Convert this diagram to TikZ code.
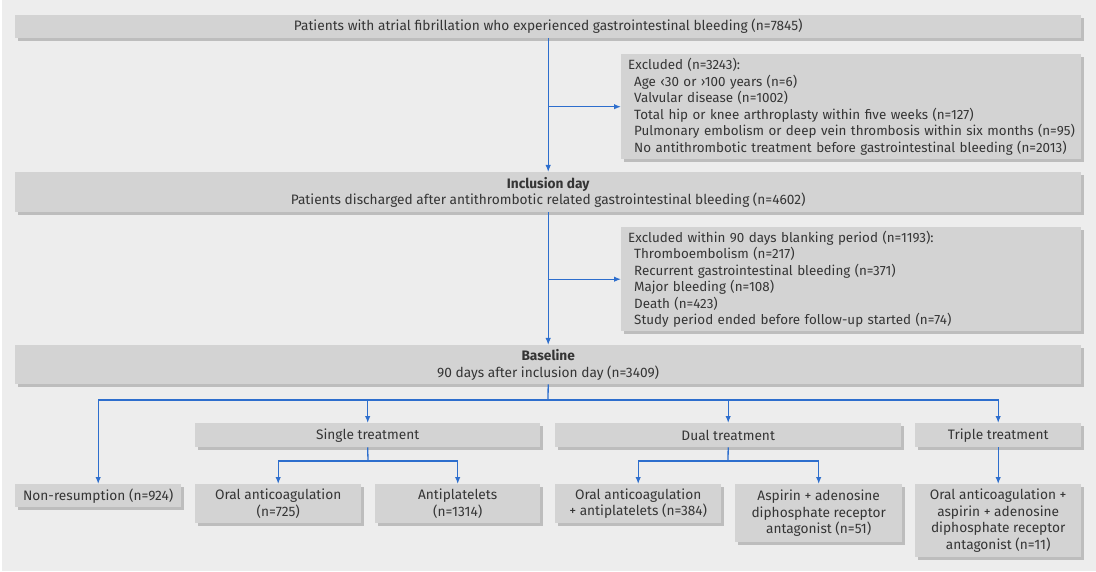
\documentclass[tikz,border=0pt]{standalone}
\usepackage{fontspec}
\setmainfont{Fira Sans}
\usetikzlibrary{arrows.meta,shadows}
\definecolor{bggrey}{HTML}{EDEDED}
\definecolor{boxgrey}{HTML}{D3D3D3}
\definecolor{shadowgrey}{HTML}{BDBDBD}
\definecolor{textgrey}{HTML}{353535}
\definecolor{linkblue}{RGB}{45,110,205}
\newcommand{\exclhead}[1]{\hspace*{7pt}\mbox{#1}}
\newcommand{\exclitem}[1]{\hspace*{13pt}\mbox{#1}}
\begin{document}
\begin{tikzpicture}[x=1pt,y=-1pt,
  box/.style={fill=boxgrey, anchor=north west, inner xsep=7pt, inner ysep=0pt,
    text=textgrey, align=center, font=\fontsize{13.7}{16.5}\selectfont,
    drop shadow={shadow xshift=3pt, shadow yshift=-3pt, fill=shadowgrey, opacity=1}},
  exclbox/.style={box, align=left, inner xsep=0pt, text width=460pt,
    font=\fontsize{13.4}{16.5}\selectfont},
  link/.style={draw=linkblue, line width=1.3pt},
  >={Latex[length=7pt,width=5.5pt]}]
\useasboundingbox (0,0) rectangle (1096,572);
\fill[white] (0,0) rectangle (1096,572);
\fill[bggrey] (1.5,0) rectangle (1096,570.5);
% main column
\node[box, minimum width=1066pt, minimum height=22.5pt] (start) at (15,15) {Patients with atrial fibrillation who experienced gastrointestinal bleeding (n=7845)};
\node[exclbox, minimum height=105pt] (excl1) at (621,54) {\exclhead{Excluded (n=3243):}\\
  \exclitem{Age ‹30 or ›100 years (n=6)}\\
  \exclitem{Valvular disease (n=1002)}\\
  \exclitem{Total hip or knee arthroplasty within five weeks (n=127)}\\
  \exclitem{Pulmonary embolism or deep vein thrombosis within six months (n=95)}\\
  \exclitem{No antithrombotic treatment before gastrointestinal bleeding (n=2013)}};
\node[box, minimum width=1066pt, minimum height=40pt] (incl) at (15,172) {\textbf{Inclusion day}\\Patients discharged after antithrombotic related gastrointestinal bleeding (n=4602)};
\node[exclbox, minimum height=104pt] (excl2) at (621,227) {\exclhead{Excluded within 90 days blanking period (n=1193):}\\
  \exclitem{Thromboembolism (n=217)}\\
  \exclitem{Recurrent gastrointestinal bleeding (n=371)}\\
  \exclitem{Major bleeding (n=108)}\\
  \exclitem{Death (n=423)}\\
  \exclitem{Study period ended before follow-up started (n=74)}};
\node[box, minimum width=1066pt, minimum height=39pt] (base) at (15,345) {\textbf{Baseline}\\90 days after inclusion day (n=3409)};
% treatment groups
\node[box, minimum width=345pt, minimum height=24pt] (single) at (195,423) {Single treatment};
\node[box, minimum width=346pt, minimum height=24pt] (dual) at (555,423) {Dual treatment};
\node[box, minimum width=166pt, minimum height=24pt] (triple) at (915,423) {Triple treatment};
% regimens
\node[box, minimum width=166pt, minimum height=23pt] (nonres) at (15,484) {Non-resumption (n=924)};
\node[box, minimum width=166pt, minimum height=39pt] (oac) at (195,484) {Oral anticoagulation\\(n=725)};
\node[box, minimum width=165pt, minimum height=39pt] (apl) at (375,484) {Antiplatelets\\(n=1314)};
\node[box, minimum width=166pt, minimum height=39pt] (oacapl) at (555,484) {Oral anticoagulation\\+ antiplatelets (n=384)};
\node[box, minimum width=167pt, minimum height=58pt] (dapt) at (735,484) {Aspirin + adenosine\\diphosphate receptor\\antagonist (n=51)};
\node[box, minimum width=166pt, minimum height=73pt] (tripleall) at (915,484) {Oral anticoagulation +\\aspirin + adenosine\\diphosphate receptor\\antagonist (n=11)};
\coordinate (bar) at (548,400);
\coordinate (singlebar) at (368,461);
\coordinate (dualbar) at (728,461);
% connectors
\draw[link,->] (start.south) -- (incl.north);
\draw[link,->] (start.south |- excl1.west) -- (excl1.west);
\draw[link,->] (incl.south) -- (base.north);
\draw[link,->] (incl.south |- excl2.west) -- (excl2.west);
\draw[link] (base.south) -- (bar);
\draw[link,->] (bar) -| (nonres.north);
\draw[link,->] (bar) -| (single.north);
\draw[link,->] (bar) -| (dual.north);
\draw[link,->] (bar) -| (triple.north);
\draw[link] (single.south) -- (singlebar);
\draw[link,->] (singlebar) -| (oac.north);
\draw[link,->] (singlebar) -| (apl.north);
\draw[link] (dual.south) -- (dualbar);
\draw[link,->] (dualbar) -| (oacapl.north);
\draw[link,->] (dualbar) -| (dapt.north);
\draw[link,->] (triple.south) -- (tripleall.north);
\end{tikzpicture}
\end{document}
